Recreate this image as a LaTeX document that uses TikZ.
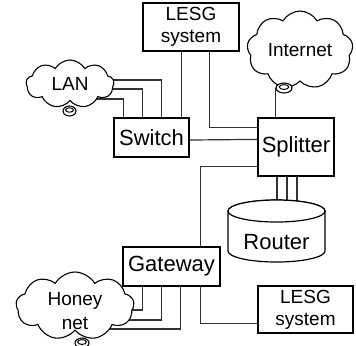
\documentclass[tikz,border=0pt]{standalone}
\usepackage{fontspec}
\setmainfont{Liberation Sans}
\usetikzlibrary{shapes.symbols,shapes.geometric,calc}
\pgfdeclarelayer{background}
\pgfsetlayers{background,main}
\begin{document}
\begin{tikzpicture}[x=0.5pt,y=-0.5pt,
  box/.style={draw, fill=white, line width=0.6pt, inner sep=0pt, align=center},
  big/.style={font=\fontsize{11}{13}\selectfont},
  small/.style={font=\fontsize{9.5}{11}\selectfont},
  netcloud/.style={cloud, cloud puffs=9, cloud puff arc=120, cloud ignores aspect, draw, fill=white, line width=0.55pt, inner sep=0pt, align=center, font=\fontsize{9.5}{10}\selectfont},
  plug/.style={ellipse, draw, fill=white, line width=0.55pt, inner sep=0pt},
  wire/.style={line width=0.6pt, draw=black!80},
  drum/.style={draw, fill=white, line width=0.6pt}]
\useasboundingbox (0,0) rectangle (356,345);

% boxes
\node[box, small, minimum width=48pt, minimum height=24pt] (lesg1) at (191,27) {LESG\\system};
\node[box, big, minimum width=37.5pt, minimum height=19.5pt] (switch) at (151.5,137.5) {Switch};
\node[box, big, minimum width=38pt, minimum height=29pt] (splitter) at (296,147) {Splitter};
\node[box, big, minimum width=48.5pt, minimum height=19.5pt] (gateway) at (171.5,266.5) {Gateway};
\node[box, small, minimum width=47.5pt, minimum height=23.5pt] (lesg2) at (305.5,309.5) {LESG\\system};

% clouds
\node[netcloud, minimum width=44pt, minimum height=24pt] (lan) at (70,84) {LAN};
\node[netcloud, minimum width=53pt, minimum height=39pt] (internet) at (300,50) {Internet};
\node[netcloud, minimum width=59pt, minimum height=34pt] (honey) at (75,306) {};
\node[font=\fontsize{9.5}{12}\selectfont, align=center, inner sep=0pt] (honeytxt) at (75,311) {Honey\\net};

% plugs
\node[plug, minimum width=6.5pt, minimum height=5pt] (lplug) at (69.5,111) {};
\draw[line width=0.5pt] ($(lplug.center)+(0,-1)$) ellipse[x radius=2pt, y radius=1.1pt];
\node[plug, minimum width=8pt, minimum height=5pt] (iplug) at (284,88) {};
\draw[line width=0.5pt] ($(iplug.center)+(0,-1)$) ellipse[x radius=2.4pt, y radius=1.2pt];
\node[plug, minimum width=7pt, minimum height=5pt] (hplug) at (82,343) {};
\draw[line width=0.5pt] ($(hplug.center)+(0,-1)$) ellipse[x radius=2.2pt, y radius=1.2pt];

% router
\coordinate (rtop) at (276.5,211);
\draw[drum] ($(rtop)+(-48.5,0)$) -- ++(0,-20pt)
  arc[start angle=180,end angle=360,x radius=24.25pt,y radius=5.5pt] -- ++(0,20pt)
  arc[start angle=0,end angle=180,x radius=24.25pt,y radius=5.5pt] -- cycle;
\draw[drum] (rtop) ellipse[x radius=24.25pt, y radius=5.5pt];
\node[big] (router) at ($(rtop)+(0,31)$) {Router};

% connectors
\begin{pgfonlayer}{background}
\draw[wire] ($(lan.center)+(0,-4)$) -| ($(switch.north west)+(48,0)$);
\draw[wire] ($(lan.center)+(0,5)$) -| ($(switch.north west)+(29,0)$);
\draw[wire] ($(lan.center)+(0,15)$) -| ($(switch.north west)+(10,0)$);
\draw[wire] ($(lesg1.south west)+(39,0)$) -- ($(switch.north west)+(68,0)$);
\draw[wire] ($(lesg1.south west)+(67,0)$) |- ($(splitter.north west)+(0,10)$);
\draw[wire] ($(switch.east)+(0,2.5)$) -- ($(splitter.north west)+(0,22)$);
\draw[wire] (iplug.west) -- (iplug.west |- splitter.north);
\draw[wire] ($(splitter.south)+(-19,0)$) -- ++(0,40);
\draw[wire] ($(splitter.south)+(-9,0)$) -- ++(0,40);
\draw[wire] ($(splitter.south)+(1,0)$) -- ++(0,40);
\draw[wire] ($(splitter.south west)+(0,-10)$) -| ($(gateway.north west)+(78,0)$);
\draw[wire] ($(gateway.south west)+(78,0)$) |- ($(lesg2.south west)+(0,-10)$);
\draw[wire] ($(gateway.south west)+(20,0)$) |- ($(honey.center)+(0,4)$);
\draw[wire] ($(gateway.south west)+(39,0)$) |- ($(honey.center)+(0,14)$);
\draw[wire] ($(gateway.south west)+(58,0)$) |- ($(honey.center)+(0,23)$);
\end{pgfonlayer}
\end{tikzpicture}
\end{document}
